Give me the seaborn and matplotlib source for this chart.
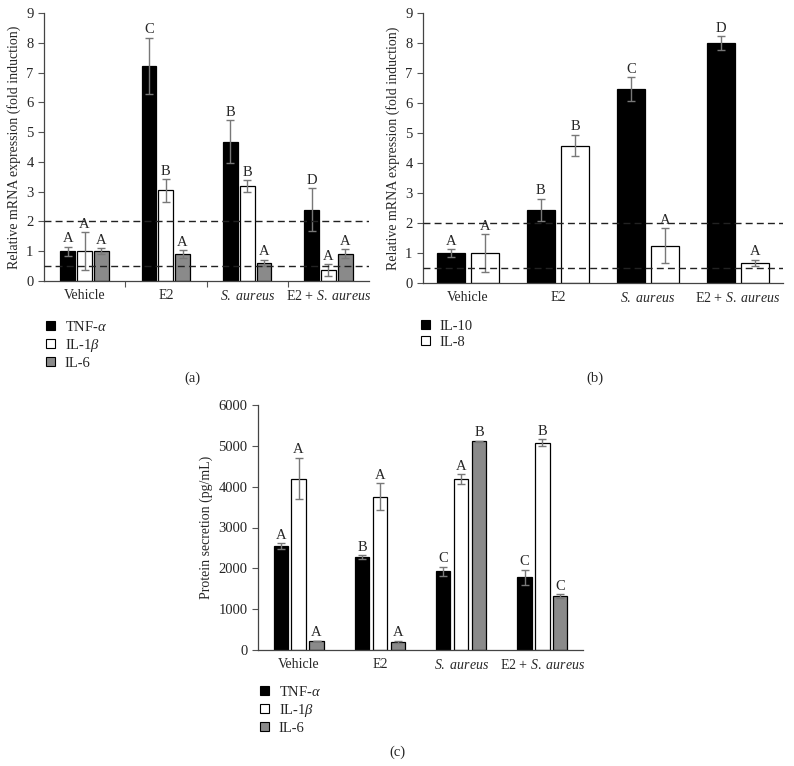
import numpy as np
import pandas as pd
import matplotlib
matplotlib.use("Agg")
import matplotlib.pyplot as plt
import seaborn as sns
from matplotlib.patches import Patch

# ---------------- data ----------------
groups = ["Vehicle", "E2", "$\\it{S.\\ aureus}$", "E2 + $\\it{S.\\ aureus}$"]

# panel (a)
a_series = ["TNF-$\\alpha$", "IL-1$\\beta$", "IL-6"]
a_tnf = [1.00, 7.22, 4.68, 2.40]
a_tnf_err = [0.15, 0.95, 0.72, 0.72]
a_il1b = [1.00, 3.04, 3.18, 0.37]
a_il1b_err = [0.63, 0.38, 0.20, 0.20]
a_il6 = [1.00, 0.90, 0.62, 0.92]
a_il6_err = [0.10, 0.13, 0.10, 0.14]
a_tnf_let = ["A", "C", "B", "D"]
a_il1b_let = ["A", "B", "B", "A"]
a_il6_let = ["A", "A", "A", "A"]

# panel (b)
b_series = ["IL-10", "IL-8"]
b_il10 = [1.00, 2.44, 6.46, 8.00]
b_il10_err = [0.12, 0.36, 0.40, 0.22]
b_il8 = [1.00, 4.58, 1.25, 0.67]
b_il8_err = [0.62, 0.36, 0.58, 0.10]
b_il10_let = ["A", "B", "C", "D"]
b_il8_let = ["A", "B", "A", "A"]

# panel (c)
c_series = ["TNF-$\\alpha$", "IL-1$\\beta$", "IL-6"]
c_tnf = [2540, 2270, 1930, 1780]
c_tnf_err = [70, 50, 110, 190]
c_il1b = [4200, 3750, 4180, 5080]
c_il1b_err = [510, 330, 120, 80]
c_il6 = [220, 200, 5110, 1320]
c_il6_err = [10, 30, 20, 40]
c_tnf_let = ["A", "B", "C", "C"]
c_il1b_let = ["A", "A", "A", "B"]
c_il6_let = ["A", "A", "B", "C"]

thresholds = [2.0, 0.5]

# ---------------- style ----------------
sns.set_style("ticks")
plt.rcParams["font.family"] = ["Liberation Serif", "DejaVu Serif"]
plt.rcParams["mathtext.fontset"] = "custom"
plt.rcParams["mathtext.rm"] = "Liberation Serif"
plt.rcParams["mathtext.it"] = "Liberation Serif:italic"
plt.rcParams["mathtext.bf"] = "Liberation Serif:bold"

colors3 = ["#000000", "#ffffff", "#8a8a8a"]
colors2 = ["#000000", "#ffffff"]
ERRC = "#787878"

fig = plt.figure(figsize=(7.94, 7.66), dpi=100)
W, H = 794, 766


def add_ax(l, r, top, bottom):
    return fig.add_axes([l / W, 1 - bottom / H, (r - l) / W, (bottom - top) / H])


def panel(ax, series, vals, errs, lets, colors, width, gap, ymax, ystep, ylabel,
          pad, boundary_ticks):
    rows = []
    for s, v in zip(series, vals):
        for g, val in zip(groups, v):
            rows.append({"group": g, "series": s, "value": val})
    df = pd.DataFrame(rows)
    sns.barplot(data=df, x="group", y="value", hue="series", order=groups,
                hue_order=series, palette=colors, width=width, gap=gap,
                edgecolor="black", linewidth=0.9, saturation=1, errorbar=None,
                legend=False, ax=ax)
    for cont, e, l in zip(ax.containers, errs, lets):
        for bar, ee, ll in zip(cont, e, l):
            x = bar.get_x() + bar.get_width() / 2
            h = bar.get_height()
            ax.errorbar(x, h, yerr=ee, color=ERRC, capsize=3.2, lw=1.0,
                        capthick=1.0, zorder=4)
            ax.text(x, h + ee + pad, ll, ha="center", va="bottom", fontsize=10.5)
    ax.set_xlim(-0.5, 3.5)
    ax.set_ylim(0, ymax)
    ax.set_yticks(np.arange(0, ymax + ystep / 2, ystep))
    ax.set_xlabel("")
    ax.set_ylabel(ylabel, fontsize=10)
    if boundary_ticks:
        ax.set_xticks([0.5, 1.5, 2.5], minor=True)
        ax.tick_params(axis="x", which="minor", length=4, width=0.8, color="#555555")
    ax.tick_params(axis="x", which="major", length=0, labelsize=10, pad=6)
    ax.tick_params(axis="y", which="major", length=4, width=0.8, labelsize=10.5,
                   color="#555555")
    for s in ["top", "right"]:
        ax.spines[s].set_visible(False)
    for s in ["left", "bottom"]:
        ax.spines[s].set_linewidth(0.9)
        ax.spines[s].set_color("#444444")


def legend(series, colors, x, y):
    handles = [Patch(facecolor=c, edgecolor="black", linewidth=0.8) for c in colors]
    fig.legend(handles, series, loc="upper left", bbox_to_anchor=(x / W, 1 - y / H),
               frameon=False, fontsize=10.5, handlelength=0.6, handleheight=0.6,
               handletextpad=0.7, labelspacing=0.2, borderpad=0, borderaxespad=0)


# panel (a)
ax_a = add_ax(44, 369, 13, 281)
panel(ax_a, a_series, [a_tnf, a_il1b, a_il6], [a_tnf_err, a_il1b_err, a_il6_err],
      [a_tnf_let, a_il1b_let, a_il6_let], colors3, 0.62, 0.12, 9, 1,
      "Relative mRNA expression (fold induction)", 0.05, True)
for t in thresholds:
    ax_a.axhline(t, color="#222222", ls=(0, (5, 3)), lw=1.0, zorder=5)
legend(a_series, colors3, 46, 320)
fig.text(192 / W, 1 - 378 / H, "(a)", ha="center", va="center", fontsize=10.5)

# panel (b)
ax_b = add_ax(423, 783, 13, 283)
panel(ax_b, b_series, [b_il10, b_il8], [b_il10_err, b_il8_err],
      [b_il10_let, b_il8_let], colors2, 0.76, 0.2, 9, 1,
      "Relative mRNA expression (fold induction)", 0.05, False)
for t in thresholds:
    ax_b.axhline(t, color="#222222", ls=(0, (5, 3)), lw=1.0, zorder=5)
legend(b_series, colors2, 421, 320)
fig.text(595 / W, 1 - 378 / H, "(b)", ha="center", va="center", fontsize=10.5)

# panel (c)
ax_c = add_ax(258, 583, 405, 650)
panel(ax_c, c_series, [c_tnf, c_il1b, c_il6], [c_tnf_err, c_il1b_err, c_il6_err],
      [c_tnf_let, c_il1b_let, c_il6_let], colors3, 0.66, 0.2, 6000, 1000,
      "Protein secretion (pg/mL)", 40, False)
legend(c_series, colors3, 260, 685)
fig.text(397 / W, 1 - 752 / H, "(c)", ha="center", va="center", fontsize=10.5)

fig.savefig("out.png", dpi=100, facecolor="white")
